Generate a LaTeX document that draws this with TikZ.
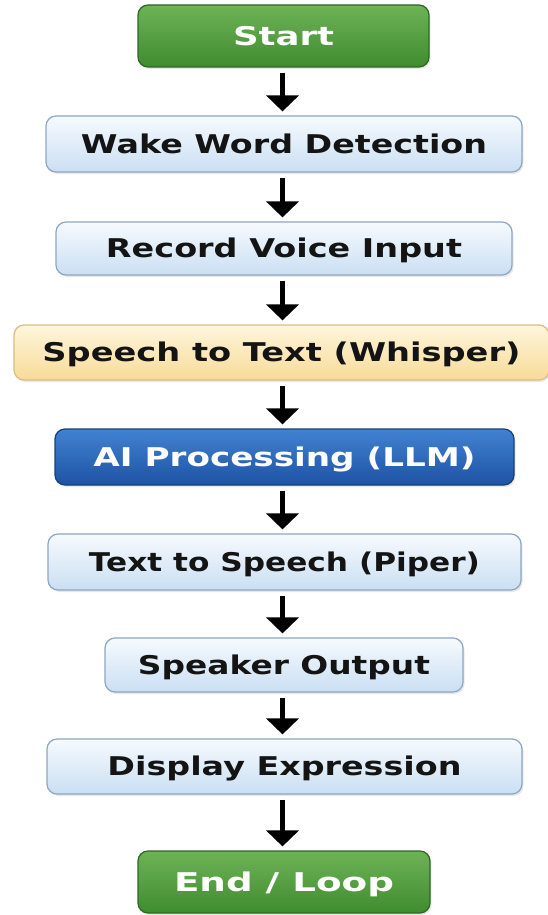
\documentclass[tikz,border=0pt]{standalone}
\usepackage{fontspec}
\usepackage{graphicx}
\setmainfont{DejaVu Sans}
\usetikzlibrary{arrows.meta,shadows}
\definecolor{grtop}{HTML}{6DB356}
\definecolor{grbot}{HTML}{3F8C2F}
\definecolor{grdraw}{HTML}{2E6624}
\definecolor{lbtop}{HTML}{F6FAFE}
\definecolor{lbbot}{HTML}{CADFF3}
\definecolor{lbdraw}{HTML}{8FA6BF}
\definecolor{yltop}{HTML}{FEF6DC}
\definecolor{ylbot}{HTML}{F8DA98}
\definecolor{yldraw}{HTML}{D9BD85}
\definecolor{dbtop}{HTML}{4282D2}
\definecolor{dbbot}{HTML}{1D53A4}
\definecolor{dbdraw}{HTML}{193F78}
\definecolor{txt}{HTML}{141414}
\newcommand\fitw[2]{\resizebox{#1}{\height}{#2}}
\tikzset{
  boxbase/.style={rounded corners=10pt, line width=1.2pt, inner sep=0pt,
    font=\fontsize{25.8}{30}\selectfont\bfseries, text=txt,
    text height=18.8pt, text depth=0pt,
    drop shadow={shadow xshift=1.5pt, shadow yshift=-2pt, opacity=0.18}},
  greenbox/.style={boxbase, draw=grdraw, top color=grtop, bottom color=grbot, text=white},
  lightbox/.style={boxbase, draw=lbdraw, top color=lbtop, bottom color=lbbot},
  yellowbox/.style={boxbase, draw=yldraw, top color=yltop, bottom color=ylbot},
  darkbox/.style={boxbase, draw=dbdraw, top color=dbtop, bottom color=dbbot, text=white},
  flowarrow/.style={line width=4.5pt, -{Triangle[width=32pt,length=16pt]}, shorten <=5pt, shorten >=4pt}
}
\begin{document}
\begin{tikzpicture}[x=1pt,y=1pt]
\useasboundingbox[fill=white] (0,0) rectangle (547,-915);
\node[greenbox, minimum width=291pt, minimum height=62pt] (start) at (283.5,-36) {\fitw{101pt}{Start}};
\node[lightbox, minimum width=476pt, minimum height=56pt] (wake) at (284,-144) {\fitw{406pt}{Wake Word Detection}};
\node[lightbox, minimum width=456pt, minimum height=53pt] (record) at (284,-248.5) {\fitw{356pt}{Record Voice Input}};
\node[yellowbox, minimum width=535pt, minimum height=55pt] (stt) at (281.5,-352.5) {\fitw{478pt}{Speech to Text (Whisper)}};
\node[darkbox, minimum width=459pt, minimum height=56pt] (ai) at (284.5,-457) {\fitw{382pt}{AI Processing (LLM)}};
\node[lightbox, minimum width=473pt, minimum height=56pt] (tts) at (284.5,-562) {\fitw{391pt}{Text to Speech (Piper)}};
\node[lightbox, minimum width=358pt, minimum height=54pt] (spk) at (284,-665) {\fitw{292pt}{Speaker Output}};
\node[lightbox, minimum width=475pt, minimum height=55pt] (disp) at (284.5,-766.5) {\fitw{354pt}{Display Expression}};
\node[greenbox, minimum width=292pt, minimum height=62pt] (endl) at (284,-882) {\fitw{220pt}{End / Loop}};
\foreach \a/\b in {start/wake,wake/record,record/stt,stt/ai,ai/tts,tts/spk,spk/disp,disp/endl}
  \draw[flowarrow] (\a.south -| 282.5,0) -- (\b.north -| 282.5,0);
\end{tikzpicture}
\end{document}
